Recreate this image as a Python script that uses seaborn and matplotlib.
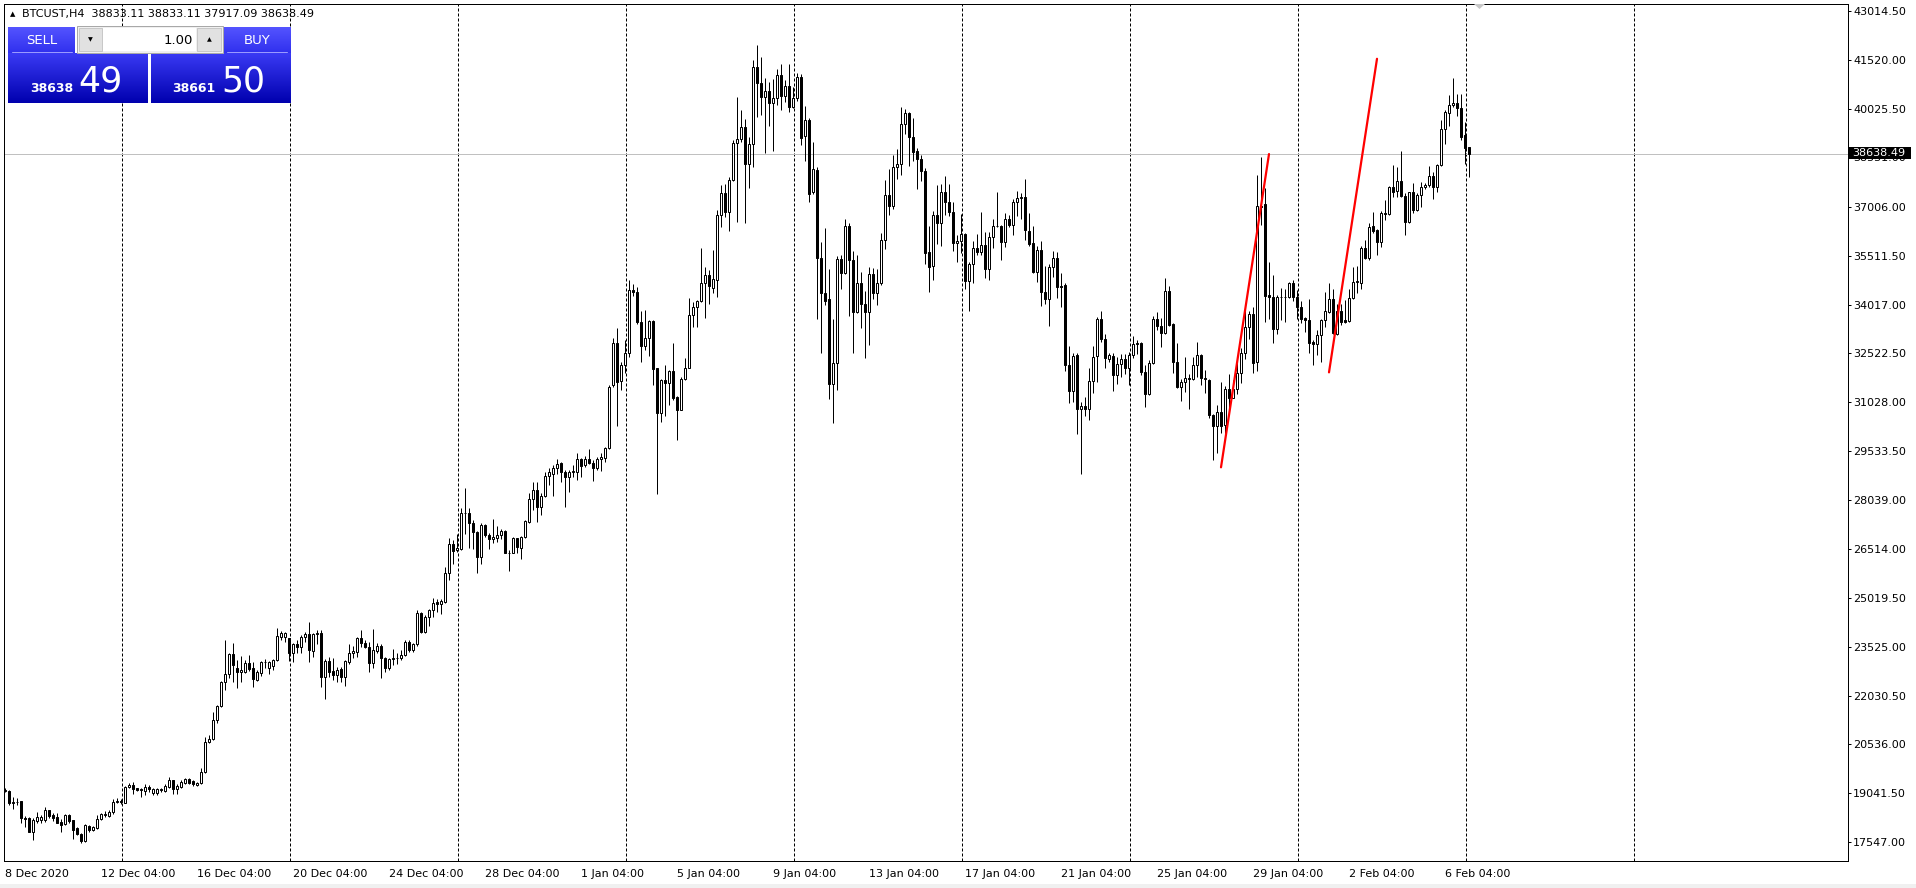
import numpy as np
import pandas as pd
import matplotlib
matplotlib.use("Agg")
import matplotlib.pyplot as plt
import seaborn as sns
from matplotlib.patches import Rectangle, Polygon

# ---- BTCUST H4 candles, one entry per bar ----
open_ = [
    19120, 19120, 18730, 18780, 18790, 18270, 18270, 17860, 18200, 18220, 18220, 18520, 18370, 18300, 18160,
    18090, 18370, 18220, 17980, 17780, 17580, 18040, 17910, 17980, 18240, 18370, 18340, 18460, 18780, 18790,
    18750, 19220, 19290, 19190, 19160, 19110, 19220, 19050, 19060, 19160, 19120, 19240, 19440, 19160, 19240,
    19360, 19490, 19410, 19300, 19360, 19680, 20620, 20690, 21300, 21710, 22440, 22690, 23300, 22870, 22760,
    22760, 23020, 22870, 22510, 22730, 23070, 22870, 22940, 23120, 23840, 23820, 23790, 23330, 23600,
    23510, 23840, 23920, 23410, 23910, 23960, 22610, 23100, 22790, 22680, 22840, 22610, 23070, 23330, 23380,
    23790, 23660, 23510, 23020, 23410, 23550, 23200, 22870, 23150, 23180, 23200, 23270, 23680, 23430, 23630,
    24550, 23990, 24430, 24670, 24890, 24830, 24910, 25780, 26670, 26490, 26540, 27620, 27620, 27330, 27050,
    26270, 27260, 26970, 26820, 26850, 26970, 27080, 26410, 26410, 26850, 26570, 26900, 27360, 28050, 28350,
    27820, 28150, 28760, 28840, 29000, 29150, 28890, 28740, 28880, 28890, 29270, 29100, 29300, 29170, 29000,
    29300, 29330, 29610, 31550, 32850, 31680, 32160, 32540, 34460, 34390, 33490, 32750, 32980, 33510, 32060,
    30700, 31720, 31620, 31980, 31170, 30800, 31750, 32080, 33700, 33950, 34120, 34670, 34920, 34540, 34770,
    36760, 37450, 36860, 37830, 38960, 39080, 39450, 38340, 38930, 41290, 40820, 40370, 40570, 40210, 40340,
    41050, 40410, 40710, 40080, 40340, 40980, 39180, 39670, 37480, 38140, 35430, 34360, 34180, 31570, 32230,
    35400, 34970, 36420, 35380, 33800, 34670, 34020, 33800, 34940, 34380, 34670, 35990, 37370, 37050, 38220,
    38340, 39540, 39880, 39160, 38720, 38470, 38110, 35620, 35210, 36760, 36530, 37460, 37150, 36860, 35890,
    35970, 36170, 34750, 35250, 35740, 35620, 35840, 35100, 36100, 36430, 36430, 35940, 36630, 36450, 37150,
    37270, 37320, 36270, 35890, 35020, 35690, 34410, 34180, 35180, 35450, 34600, 34620, 32180, 31380, 32470,
    30830, 30920, 30830, 31680, 32450, 33590, 32950, 32340, 32440, 31860, 32210, 32340, 32060, 32470, 32800,
    32830, 31940, 31290, 32240, 33570, 33360, 33160, 34430, 33410, 32260, 31500, 31630, 31770, 31750, 32180,
    32470, 31780, 31720, 30630, 30300, 30710, 30340, 31420, 31140, 31420, 31910, 32540, 33340, 33730, 32270,
    37040, 37100, 34310, 34240, 33260, 34240, 34250, 34240, 34690, 34240, 33930, 33610, 33560, 32860, 32800,
    33080, 33560, 33800, 34190, 33130, 33830, 33540, 33520, 34210, 34720, 34690, 35740, 35450, 36420, 36300,
    35940, 36830, 36790, 37610, 37500, 37810, 37340, 36560, 37460, 36930, 37370, 37630, 37670, 37960, 37610,
    38290, 39390, 39880, 40130, 40180, 40030, 39210, 38833.11,
]
high = [
    19200, 19140, 18930, 18910, 18800, 18340, 18320, 18270, 18470, 18370, 18620, 18540, 18440, 18440, 18240,
    18400, 18400, 18220, 18010, 17810, 18090, 18080, 18030, 18370, 18440, 18490, 18520, 18850, 18900, 18860,
    19260, 19360, 19380, 19210, 19210, 19340, 19280, 19190, 19210, 19210, 19340, 19530, 19460, 19320, 19440,
    19510, 19510, 19440, 19390, 19830, 20770, 20820, 21540, 21740, 22490, 23750, 23350, 23650, 23120, 23240,
    23140, 23270, 23070, 22810, 23100, 23170, 23100, 23170, 24120, 24020, 23990, 23810, 23650, 23750,
    23890, 23990, 24280, 23960, 24040, 24040, 23170, 23220, 23200, 22920, 22920, 23120, 23610, 23550, 23840,
    24040, 23730, 23680, 24060, 23650, 23610, 23220, 23200, 23450, 23330, 23430, 23730, 23730, 23650, 24670,
    24600, 24500, 24700, 25010, 24980, 24980, 25980, 26850, 26800, 27000, 27770, 28410, 27770, 27410, 27090,
    27310, 27290, 27020, 27460, 27230, 27130, 27110, 26490, 26880, 26870, 26920, 27410, 28230, 28590, 28590,
    28250, 28890, 29000, 29100, 29270, 29200, 28960, 28960, 29100, 29460, 29330, 29370, 29580, 29250, 29350,
    29460, 29640, 31550, 32980, 33290, 32270, 32930, 34770, 34650, 34560, 33830, 33850, 33560, 33540, 32060,
    31750, 32160, 32010, 32850, 31210, 31800, 32370, 34210, 34100, 34160, 35740, 35180, 35070, 35690, 36930,
    37680, 37710, 37940, 39060, 40390, 39980, 39690, 39140, 41510, 41970, 41610, 40950, 40850, 40920, 41230,
    41390, 40900, 41390, 40690, 41100, 41080, 40100, 39750, 39010, 38240, 35940, 36350, 35100, 33590, 35500,
    35530, 36630, 36530, 35670, 35530, 35020, 34440, 35160, 35130, 35100, 36200, 37830, 38160, 38600, 38770,
    40080, 40010, 39930, 39740, 38820, 38600, 38190, 36420, 36880, 37680, 37700, 37970, 37700, 37150, 36150,
    36780, 36200, 35330, 35960, 36170, 36840, 36230, 36230, 36640, 37460, 36450, 36810, 36760, 37250, 37500,
    37450, 37860, 36810, 36430, 35820, 35960, 35210, 35250, 35660, 35640, 34970, 34670, 32760, 32520, 32520,
    31040, 31190, 32060, 32760, 33640, 33820, 33130, 32520, 32520, 32420, 32490, 32500, 32550, 33060, 32930,
    32880, 32180, 32310, 33670, 33780, 33610, 34840, 34600, 33440, 32830, 31750, 32420, 31900, 32420, 32870,
    32490, 32010, 31750, 30660, 30940, 31650, 31520, 31890, 31720, 32270, 32700, 33950, 33830, 33930, 37990,
    38530, 37580, 35330, 34920, 34310, 34540, 34480, 34720, 34770, 34460, 34130, 33640, 34200, 32930, 33250,
    33590, 34410, 34670, 34480, 34050, 34050, 34160, 34510, 35160, 35200, 35810, 35990, 36510, 36860, 36320,
    36890, 37220, 37650, 38290, 38220, 38730, 37450, 37480, 37750, 37450, 37780, 37750, 38260, 38090, 38320,
    39670, 39980, 40440, 40950, 40470, 40470, 39620, 38833.11,
]
low = [
    19080, 18680, 18570, 18680, 18140, 18010, 17850, 17600, 18120, 18140, 18170, 18270, 18200, 18130, 17860,
    18060, 18140, 17650, 17760, 17520, 17550, 17860, 17880, 17960, 18220, 18320, 18300, 18420, 18730, 18710,
    18730, 19190, 19030, 19110, 18930, 19000, 19080, 19000, 19000, 19080, 19090, 19200, 19010, 19030, 19210,
    19340, 19320, 19260, 19250, 19340, 19650, 20570, 20670, 21200, 21690, 22220, 22560, 22460, 22280, 22460,
    22730, 22790, 22300, 22490, 22630, 22870, 22710, 22810, 23100, 23750, 23680, 23100, 23050, 23330,
    23330, 23680, 23070, 23220, 23630, 22300, 21920, 22610, 22510, 22440, 22460, 22330, 23000, 23190, 23220,
    23530, 23480, 22760, 22890, 23330, 22560, 22760, 22810, 22970, 22990, 23120, 23240, 23380, 23380, 23550,
    23940, 23960, 24160, 24450, 24600, 24530, 24860, 25570, 26080, 26440, 26510, 26980, 26570, 26540, 25800,
    26080, 26900, 26540, 26700, 26750, 26820, 26390, 25860, 26390, 26390, 26210, 26850, 27330, 27720, 27360,
    27560, 28110, 28490, 28150, 28840, 28590, 27820, 28280, 28740, 28640, 28740, 29050, 29130, 28620, 28940,
    28920, 29200, 29580, 31500, 30290, 31400, 31930, 32420, 34280, 33420, 32270, 32640, 32440, 31550, 28210,
    30430, 30600, 30940, 31090, 29880, 30780, 31720, 32060, 33320, 33320, 34100, 33620, 34050, 34360, 34260,
    36400, 36710, 36280, 37810, 36560, 39010, 36510, 37580, 38220, 39770, 39830, 38650, 39490, 38730, 40130,
    39980, 40230, 39930, 40030, 40260, 38910, 38430, 37170, 37420, 33590, 32540, 34000, 31110, 30400, 31400,
    34510, 34950, 33660, 32540, 33770, 33290, 32370, 32780, 34200, 34000, 34620, 35710, 36760, 36960, 37880,
    37990, 39230, 38270, 38420, 37550, 37800, 35250, 34410, 34770, 35860, 35820, 36760, 36740, 35670, 35330,
    35590, 34510, 33820, 34670, 35550, 35550, 34840, 34770, 35740, 36400, 35380, 35790, 36400, 36150, 36740,
    36640, 35990, 35820, 34970, 34720, 33980, 34020, 33370, 34870, 34230, 33950, 31980, 31010, 31040, 30040,
    28840, 30610, 30480, 31320, 31630, 32880, 32060, 32260, 31370, 31570, 31810, 31880, 31550, 32370, 32490,
    31860, 30890, 31240, 32210, 33240, 32720, 33130, 33370, 31910, 31450, 31060, 31340, 30830, 31720, 31810,
    31550, 31310, 30530, 29250, 29480, 30070, 29940, 30780, 31190, 31290, 31600, 32340, 32950, 31910, 31990,
    36450, 33490, 33590, 32830, 33130, 33540, 33490, 34210, 34130, 33590, 33440, 33180, 32540, 32160, 32470,
    32270, 33340, 33750, 33130, 33080, 33390, 33440, 33490, 34180, 34360, 34510, 35400, 35380, 36200, 35530,
    35790, 36610, 36760, 37320, 37320, 37300, 36150, 36510, 36830, 36890, 37020, 37550, 37630, 37240, 37480,
    38260, 38940, 39490, 40080, 39800, 39060, 38320, 37917.09,
]
close = [
    19140, 18730, 18780, 18770, 18270, 18260, 17860, 18220, 18300, 18320, 18520, 18340, 18270, 18130, 18060,
    18370, 18200, 17930, 17790, 17580, 18060, 17910, 18010, 18240, 18400, 18420, 18470, 18780, 18790, 18780,
    19240, 19290, 19160, 19140, 19130, 19220, 19160, 19160, 19160, 19150, 19260, 19440, 19160, 19260, 19390,
    19490, 19360, 19310, 19370, 19700, 20620, 20690, 21300, 21710, 22460, 22690, 23300, 22970, 22760, 22810,
    23020, 22850, 22530, 22760, 23070, 23060, 23070, 23140, 23860, 23940, 23940, 23330, 23600, 23510,
    23840, 23920, 23430, 23920, 23960, 22610, 23100, 22760, 22680, 22810, 22610, 23100, 23330, 23410, 23790,
    23650, 23530, 23020, 23430, 23550, 23200, 22870, 23150, 23180, 23190, 23270, 23680, 23430, 23610, 24550,
    23990, 24450, 24670, 24880, 24830, 24930, 25780, 26670, 26460, 26560, 27620, 27630, 27330, 27050, 26270,
    27260, 26970, 26820, 26880, 26970, 27080, 26410, 26400, 26850, 26590, 26900, 27380, 28050, 28350, 27820,
    28150, 28760, 28890, 29000, 29130, 28890, 28740, 28880, 28910, 29270, 29070, 29300, 29170, 29000, 29300,
    29350, 29610, 31500, 32830, 31650, 32160, 32540, 34460, 34390, 33490, 32750, 32980, 33510, 32030, 30700,
    31720, 31620, 31980, 31140, 30800, 31750, 32080, 33700, 33950, 34120, 34670, 34920, 34580, 34790, 36760,
    37450, 36860, 37830, 38960, 39080, 39450, 38340, 38930, 41290, 40820, 40370, 40570, 40210, 40340, 41050,
    40410, 40710, 40080, 40340, 40980, 39130, 39670, 37420, 38160, 35430, 34360, 34130, 31570, 32230, 35400,
    34970, 36420, 35380, 33800, 34670, 34020, 33800, 34940, 34380, 34670, 35990, 37370, 37050, 38220, 38340,
    39540, 39880, 39160, 38700, 38470, 38110, 35590, 35180, 36760, 36530, 37460, 37150, 36860, 35890, 35970,
    36170, 34750, 35250, 35740, 35620, 35840, 35100, 36100, 36430, 36440, 35940, 36630, 36450, 37150, 37270,
    37320, 36300, 35860, 35020, 35690, 34410, 34180, 35180, 35450, 34560, 34560, 32180, 31380, 32450, 30830,
    30920, 30830, 31680, 32420, 33570, 32950, 32370, 32470, 31860, 32210, 32340, 32060, 32470, 32800, 32830,
    31940, 31290, 32240, 33570, 33360, 33160, 34430, 33390, 32260, 31500, 31630, 31770, 31750, 32180, 32470,
    31780, 31750, 30630, 30300, 30710, 30300, 31420, 31140, 31420, 31910, 32540, 33340, 33730, 32230, 37040,
    37020, 34280, 34240, 33260, 34240, 34250, 34240, 34670, 34260, 33930, 33590, 33560, 32830, 32800, 33080,
    33560, 33830, 34190, 33160, 33830, 33490, 33490, 34210, 34720, 34730, 35740, 35450, 36380, 36280, 35940,
    36830, 36790, 37610, 37480, 37810, 37340, 36560, 37460, 36930, 37370, 37630, 37670, 37960, 37610, 38290,
    39390, 39910, 40130, 40180, 40030, 39160, 38830, 38638.49,
]

# two red trend lines drawn by hand on the chart: (bar, price) end points
trend_bar = [304, 316, 331, 343]
trend_price = [29030, 38630, 31940, 41550]
trend_id = ["a", "a", "b", "b"]

# time axis labels, one every 24 bars
xtick_labels = ["8 Dec 2020", "12 Dec 04:00", "16 Dec 04:00", "20 Dec 04:00", "24 Dec 04:00",
                "28 Dec 04:00", "1 Jan 04:00", "5 Jan 04:00", "9 Jan 04:00", "13 Jan 04:00",
                "17 Jan 04:00", "21 Jan 04:00", "25 Jan 04:00", "29 Jan 04:00", "2 Feb 04:00",
                "6 Feb 04:00"]
ytick_values = [43014.50, 41520.00, 40025.50, 38531.00, 37006.00, 35511.50, 34017.00, 32522.50,
                31028.00, 29533.50, 28039.00, 26514.00, 25019.50, 23525.00, 22030.50, 20536.00,
                19041.50, 17547.00]
last_price = 38638.49

n = min(len(open_), len(high), len(low), len(close))
df = pd.DataFrame({"bar": np.arange(n), "open": open_[:n], "high": high[:n],
                   "low": low[:n], "close": close[:n]})
df["bottom"] = df[["open", "close"]].min(axis=1)
df["height"] = (df["close"] - df["open"]).abs()
up = df["close"] >= df["open"]

sns.set_style("white")
plt.rcParams["font.family"] = ["DejaVu Sans"]

W, H = 1916, 888
PX = 0.72  # one pixel in points at dpi 100
FS = 8     # terminal label size
fig = plt.figure(figsize=(W / 100, H / 100), dpi=100)
fig.patch.set_facecolor("white")

ax = fig.add_axes([4 / W, 27 / H, 1844 / W, 857 / H])
ax.set_facecolor("white")

# dashed vertical grid (every 42 bars)
for gx in np.arange(29.2, 410, 42):
    ax.axvline(gx, color="black", lw=PX, ls=(0, (3, 2)), zorder=1)
ax.axhline(last_price, color="#c0c0c0", lw=PX, zorder=1.5)

# candles
ax.vlines(df["bar"], df["low"], df["high"], color="black", lw=PX, zorder=2)
ax.bar(df["bar"][up], df["height"][up], bottom=df["bottom"][up], width=0.5,
       color="white", edgecolor="black", linewidth=PX, zorder=3)
ax.bar(df["bar"][~up], df["height"][~up], bottom=df["bottom"][~up], width=0.5,
       color="black", edgecolor="black", linewidth=PX, zorder=3)

trend = pd.DataFrame({"bar": trend_bar, "price": trend_price, "line": trend_id})
sns.lineplot(data=trend, x="bar", y="price", units="line", estimator=None,
             color="red", lw=1.6, ax=ax, zorder=4)

ax.set_xlim(-0.25, 460.75)
ax.set_ylim(16965, 43229)
ax.set_xlabel("")
ax.set_ylabel("")

ax.set_xticks(np.arange(0, 24 * len(xtick_labels), 24))
ax.set_xticklabels(xtick_labels, ha="left", fontsize=FS)
ax.yaxis.tick_right()
ax.set_yticks(ytick_values)
ax.set_yticklabels([f"{v:.2f}" for v in ytick_values], fontsize=FS)
ax.tick_params(axis="x", direction="out", length=2.2, width=PX, pad=3.2, colors="black")
ax.tick_params(axis="y", direction="out", length=2.2, width=PX, pad=1.5, colors="black")
for s in ax.spines.values():
    s.set_color("black")
    s.set_linewidth(PX)

# ---- overlay in pixel coordinates for the terminal decorations ----
ov = fig.add_axes([0, 0, 1, 1], zorder=10)
ov.patch.set_alpha(0)


def grad(x0, x1, y0, y1, c_top, c_bot):
    a = np.array(matplotlib.colors.to_rgb(c_top))
    b = np.array(matplotlib.colors.to_rgb(c_bot))
    t = np.linspace(0, 1, 64)[:, None]
    img = (a * (1 - t) + b * t)[:, None, :]
    ov.imshow(img, extent=[x0, x1, y1, y0], aspect="auto", interpolation="bilinear", zorder=2)


# header
ov.text(10, 14, "\u25b2", fontsize=5, va="center", ha="left", color="black")
ov.text(22, 14, "BTCUST,H4  38833.11 38833.11 37917.09 38638.49", fontsize=FS,
        va="center", ha="left", color="black")

# one-click trading panel
grad(8, 75, 27, 53, "#5454ff", "#3030ee")
grad(223, 291, 27, 53, "#5454ff", "#3030ee")
grad(8, 148, 53, 103, "#3a3af4", "#0000ae")
grad(151, 291, 53, 103, "#3a3af4", "#0000ae")
ov.plot([12, 72], [52.5, 52.5], color="#9a9aff", lw=PX, zorder=3)
ov.plot([227, 287], [52.5, 52.5], color="#9a9aff", lw=PX, zorder=3)
ov.add_patch(Rectangle((77, 26), 146, 27, facecolor="#f0f0f0", edgecolor="#a8a8a8", lw=PX, zorder=3))
ov.add_patch(Rectangle((79, 28), 23, 23, facecolor="#e1e1e1", edgecolor="#c8c8c8", lw=PX, zorder=4))
ov.add_patch(Rectangle((197, 28), 24, 23, facecolor="#e1e1e1", edgecolor="#c8c8c8", lw=PX, zorder=4))
ov.add_patch(Rectangle((103, 28), 93, 23, facecolor="white", edgecolor="none", zorder=4))
ov.text(90.5, 40, "\u25bc", fontsize=4.5, ha="center", va="center", color="black", zorder=5)
ov.text(209, 40, "\u25b2", fontsize=4.5, ha="center", va="center", color="black", zorder=5)
ov.text(193, 40, "1.00", fontsize=9.5, ha="right", va="center", color="black", zorder=5)
ov.text(41.5, 40, "SELL", fontsize=9.5, ha="center", va="center", color="white", zorder=5)
ov.text(257, 40, "BUY", fontsize=9.5, ha="center", va="center", color="white", zorder=5)
ov.text(30, 92, "38638", fontsize=9, fontweight="bold", ha="left", va="baseline", color="white", zorder=5)
ov.text(78, 92, "49", fontsize=25, ha="left", va="baseline", color="white", zorder=5)
ov.text(172, 92, "38661", fontsize=9, fontweight="bold", ha="left", va="baseline", color="white", zorder=5)
ov.text(221, 92, "50", fontsize=25, ha="left", va="baseline", color="white", zorder=5)

# current price tag on the price scale (covers the 38531.00 label as in the terminal)
ov.add_patch(Rectangle((1849, 147), 62, 12, facecolor="black", edgecolor="none", zorder=5))
ov.text(1852, 153.5, f"{last_price:.2f}", fontsize=FS, ha="left", va="center", color="white", zorder=6)

# chart shift marker and window edge
ov.add_patch(Polygon([(1474, 4), (1485, 4), (1479.5, 9)], closed=True, facecolor="#c8c8c8",
                     edgecolor="none", zorder=5))
ov.add_patch(Rectangle((0, 884), W, 4, facecolor="#f0f0f0", edgecolor="none", zorder=1))

ov.set_xlim(0, W)
ov.set_ylim(H, 0)
ov.axis("off")

fig.savefig("out.png", dpi=100, facecolor="white")
